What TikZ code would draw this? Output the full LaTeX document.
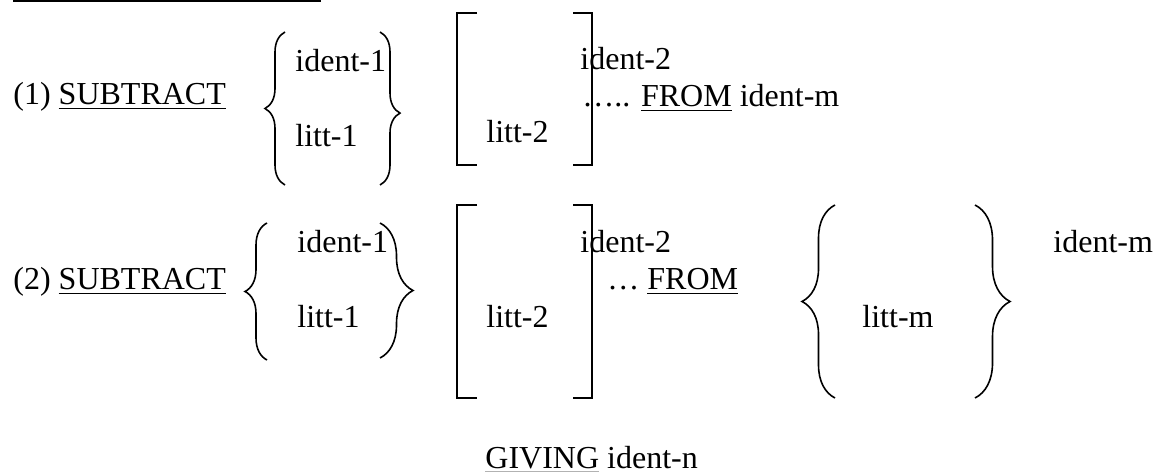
\documentclass[tikz,border=0pt]{standalone}
\usepackage{fontspec}
\setmainfont{Liberation Serif}
\usetikzlibrary{decorations.pathreplacing}
\tikzset{
	lbl/.style={anchor=base west, inner sep=0pt, font=\fontsize{16pt}{19pt}\selectfont},
	curly/.style={decorate, decoration={brace, amplitude=#1}, line width=0.8pt},
	sqbr/.style={line width=0.8pt},
}
\begin{document}
\begin{tikzpicture}[x=0.5pt, y=-0.5pt]
		\useasboundingbox (0,0) rectangle (1154,475);
		% heading rule
		\draw[line width=1pt] (13,1) -- (321,1);

		% format (1)
		\node[lbl] (subA) at (13,105) {(1) \underline{SUBTRACT}};
		\node[lbl] (identA) at (295,72) {ident-1};
		\node[lbl] (littA) at (295,147) {litt-1};
		\node[lbl] (identB) at (580,70) {ident-2};
		\node[lbl] (littB) at (486,143) {litt-2};
		\node[lbl] (fromA) at (582,107) {….. \underline{FROM} ident-m};

		\draw[curly=10pt] (285,185) -- (285,32);
		\draw[curly=10pt, decoration={aspect=0.53}] (380,32) -- (380,185);
		\draw[sqbr] (477,13) -- (457,13) -- (457,165) -- (477,165);
		\draw[sqbr] (573,13) -- (592,13) -- (592,165) -- (573,165);

		% format (2)
		\node[lbl] (subB) at (13,290) {(2) \underline{SUBTRACT}};
		\node[lbl] (identC) at (297,253) {ident-1};
		\node[lbl] (littC) at (297,327) {litt-1};
		\node[lbl] (identD) at (580,253) {ident-2};
		\node[lbl] (littD) at (486,327) {litt-2};
		\node[lbl] (fromB) at (607,290) {… \underline{FROM}};
		\node[lbl] (littM) at (862,327) {litt-m};
		\node[lbl] (identM) at (1053,253) {ident-m};

		\draw[curly=11pt] (267,360) -- (267,223);
		\draw[curly=16.5pt] (380,223) -- (380,358);
		\draw[sqbr] (477,205) -- (457,205) -- (457,398) -- (477,398);
		\draw[sqbr] (573,205) -- (592,205) -- (592,398) -- (573,398);
		\draw[curly=16.5pt] (835,398) -- (835,205);
		\draw[curly=17.5pt] (975,205) -- (975,398);

		% giving clause
		\node[lbl] (givN) at (485,468) {{\color{black!30}\underline{\color{black}GIVING}} ident-n};
\end{tikzpicture}
\end{document}
